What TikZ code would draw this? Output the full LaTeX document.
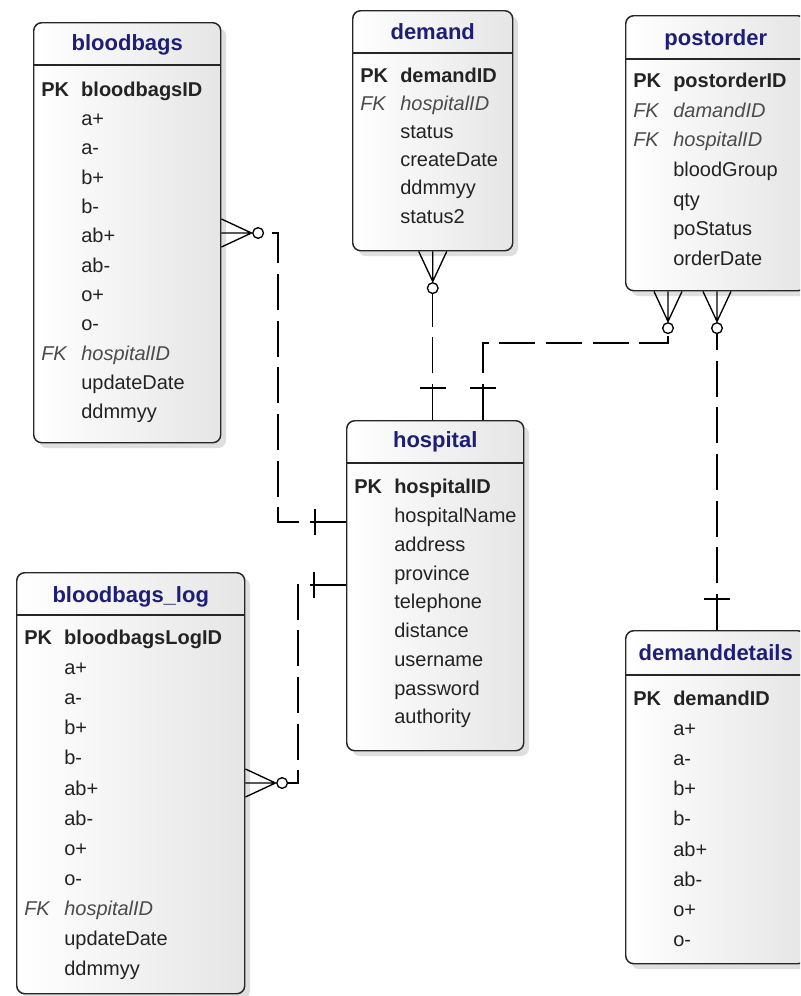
\documentclass[tikz,border=0pt]{standalone}
\usepackage{fontspec}
\setmainfont{Liberation Sans}
\usepackage{tikz}
\usetikzlibrary{calc,shadows}
\definecolor{titleblue}{RGB}{30,30,120}
\definecolor{fkgray}{RGB}{75,75,75}
\definecolor{attrtext}{RGB}{35,35,35}
\newcommand\pkrow[1]{\textbf{PK} & \textbf{#1}\\}
\newcommand\fkrow[1]{\textit{\color{fkgray}FK} & \textit{\color{fkgray}#1}\\}
\newcommand\atrow[1]{ & #1\\}
\tikzset{
  entity/.style = {draw=black!85, line width=1.1pt, rounded corners=6pt,
    left color=white, right color=black!10, anchor=north west, inner sep=0pt,
    drop shadow={shadow xshift=4pt, shadow yshift=-4pt, fill=black!25}},% table
  etitle/.style = {font=\fontsize{16.5}{20}\selectfont\bfseries, text=titleblue,
    inner sep=0pt},% nom de la table
  attrs/.style = {anchor=north west, inner sep=0pt, text=attrtext,
    font=\fontsize{15}{#1}\selectfont},% colonnes
  sepline/.style = {draw=black!85, line width=1pt},
  rel/.style = {draw=black, line width=1pt, dash pattern=on 27pt off 8pt},
  crowfoot/.pic = {
    \draw[line width=1pt] (0pt,10.5pt) -- (22.5pt,0pt) -- (0pt,-10.5pt)
      (0pt,0pt) -- (22.5pt,0pt);
    \draw[line width=1pt] (27.5pt,0pt) circle[radius=4pt];
  },% plusieurs
  onetick/.pic = {
    \draw[line width=1pt] (0pt,-9.75pt) -- (0pt,9.75pt);
  }% un
}

\begin{document}
\begin{tikzpicture}[x=0.75pt,y=-0.75pt]
\useasboundingbox (0,0) rectangle (800,996);
\clip (0,0) rectangle (800,996);

% tables
\node [entity, minimum width=140.25pt, minimum height=315pt] (bloodbags) at (33,22) {};
\node [etitle] (bloodbags-t) at ($(bloodbags.north)+(0,23)$) {bloodbags};
\draw [sepline] ($(bloodbags.north west)+(0,43)$) -- ($(bloodbags.north east)+(0,43)$);
\node [attrs=22pt] (bloodbags-a) at ($(bloodbags.north west)+(8,53.5)$) {%
  \begin{tabular}{@{}p{30pt}@{}l@{}}
  \pkrow{bloodbagsID}
  \atrow{a+} \atrow{a-} \atrow{b+} \atrow{b-}
  \atrow{ab+} \atrow{ab-} \atrow{o+} \atrow{o-}
  \fkrow{hospitalID}
  \atrow{updateDate} \atrow{ddmmyy}
  \end{tabular}};

\node [entity, minimum width=120pt, minimum height=180pt] (demand) at (352,10) {};
\node [etitle] (demand-t) at ($(demand.north)+(0,22)$) {demand};
\draw [sepline] ($(demand.north west)+(0,43)$) -- ($(demand.north east)+(0,43)$);
\node [attrs=21.15pt] (demand-a) at ($(demand.north west)+(8,52)$) {%
  \begin{tabular}{@{}p{30pt}@{}l@{}}
  \pkrow{demandID}
  \fkrow{hospitalID}
  \atrow{status} \atrow{createDate} \atrow{ddmmyy} \atrow{status2}
  \end{tabular}};

\node [entity, minimum width=135pt, minimum height=206.25pt] (postorder) at (625,15) {};
\node [etitle] (postorder-t) at ($(postorder.north)+(0,25)$) {postorder};
\draw [sepline] ($(postorder.north west)+(0,44)$) -- ($(postorder.north east)+(0,44)$);
\node [attrs=22.25pt] (postorder-a) at ($(postorder.north west)+(8,51.5)$) {%
  \begin{tabular}{@{}p{30pt}@{}l@{}}
  \pkrow{postorderID}
  \fkrow{damandID}
  \fkrow{hospitalID}
  \atrow{bloodGroup} \atrow{qty} \atrow{poStatus} \atrow{orderDate}
  \end{tabular}};

\node [entity, minimum width=132.75pt, minimum height=247.5pt] (hospital) at (346,420) {};
\node [etitle] (hospital-t) at ($(hospital.north)+(0,22)$) {hospital};
\draw [sepline] ($(hospital.north west)+(0,43)$) -- ($(hospital.north east)+(0,43)$);
\node [attrs=21.56pt] (hospital-a) at ($(hospital.north west)+(8,53.5)$) {%
  \begin{tabular}{@{}p{30pt}@{}l@{}}
  \pkrow{hospitalID}
  \atrow{hospitalName} \atrow{address} \atrow{province} \atrow{telephone}
  \atrow{distance} \atrow{username} \atrow{password} \atrow{authority}
  \end{tabular}};

\node [entity, minimum width=171pt, minimum height=315.75pt] (bblog) at (16,572) {};
\node [etitle] (bblog-t) at ($(bblog.north)+(0,25)$) {bloodbags\_log};
\draw [sepline] ($(bblog.north west)+(0,43)$) -- ($(bblog.north east)+(0,43)$);
\node [attrs=22.6pt] (bblog-a) at ($(bblog.north west)+(8,51)$) {%
  \begin{tabular}{@{}p{30pt}@{}l@{}}
  \pkrow{bloodbagsLogID}
  \atrow{a+} \atrow{a-} \atrow{b+} \atrow{b-}
  \atrow{ab+} \atrow{ab-} \atrow{o+} \atrow{o-}
  \fkrow{hospitalID}
  \atrow{updateDate} \atrow{ddmmyy}
  \end{tabular}};

\node [entity, minimum width=135pt, minimum height=249.75pt] (demanddetails) at (625,630) {};
\node [etitle] (demanddetails-t) at ($(demanddetails.north)+(0,23)$) {demanddetails};
\draw [sepline] ($(demanddetails.north west)+(0,45)$) -- ($(demanddetails.north east)+(0,45)$);
\node [attrs=22.6pt] (demanddetails-a) at ($(demanddetails.north west)+(8,54)$) {%
  \begin{tabular}{@{}p{30pt}@{}l@{}}
  \pkrow{demandID}
  \atrow{a+} \atrow{a-} \atrow{b+} \atrow{b-}
  \atrow{ab+} \atrow{ab-} \atrow{o+} \atrow{o-}
  \end{tabular}};

% relations
\coordinate (bb-h) at (bloodbags.east |- 0,233);
\coordinate (h-bb) at (hospital.west |- 0,522);
\pic at (bb-h) {crowfoot};
\draw [rel] (h-bb) -- ($(h-bb)+(-68,0)$) |- ($(bb-h)+(42,0)$);
\pic at ($(h-bb)+(-31,0)$) {onetick};

\coordinate (h-dm) at (hospital.north -| demand.south);
\pic [rotate=-90] at (demand.south) {crowfoot};
\draw [rel] (h-dm) -- ($(demand.south)+(0,42)$);
\pic [rotate=90] at ($(h-dm)+(0,-32)$) {onetick};

\coordinate (po-h) at (postorder.south -| 668,0);
\coordinate (h-po) at (hospital.north -| 483,0);
\pic [rotate=-90] at (po-h) {crowfoot};
\draw [rel] (h-po) -- ($(h-po)+(0,-77)$) -| ($(po-h)+(0,42)$);
\pic [rotate=90] at ($(h-po)+(0,-32)$) {onetick};

\coordinate (po-dd) at (postorder.south -| 717,0);
\coordinate (dd-po) at (demanddetails.north -| po-dd);
\pic [rotate=-90] at (po-dd) {crowfoot};
\draw [rel] (dd-po) -- ($(po-dd)+(0,42)$);
\pic [rotate=90] at ($(dd-po)+(0,-31)$) {onetick};

\coordinate (bl-h) at (bblog.east |- 0,783);
\coordinate (h-bl) at (hospital.west |- 0,585);
\pic at (bl-h) {crowfoot};
\draw [rel] (h-bl) -- ($(h-bl)+(-48,0)$) |- ($(bl-h)+(42,0)$);
\pic at ($(h-bl)+(-32,0)$) {onetick};
\end{tikzpicture}
\end{document}
